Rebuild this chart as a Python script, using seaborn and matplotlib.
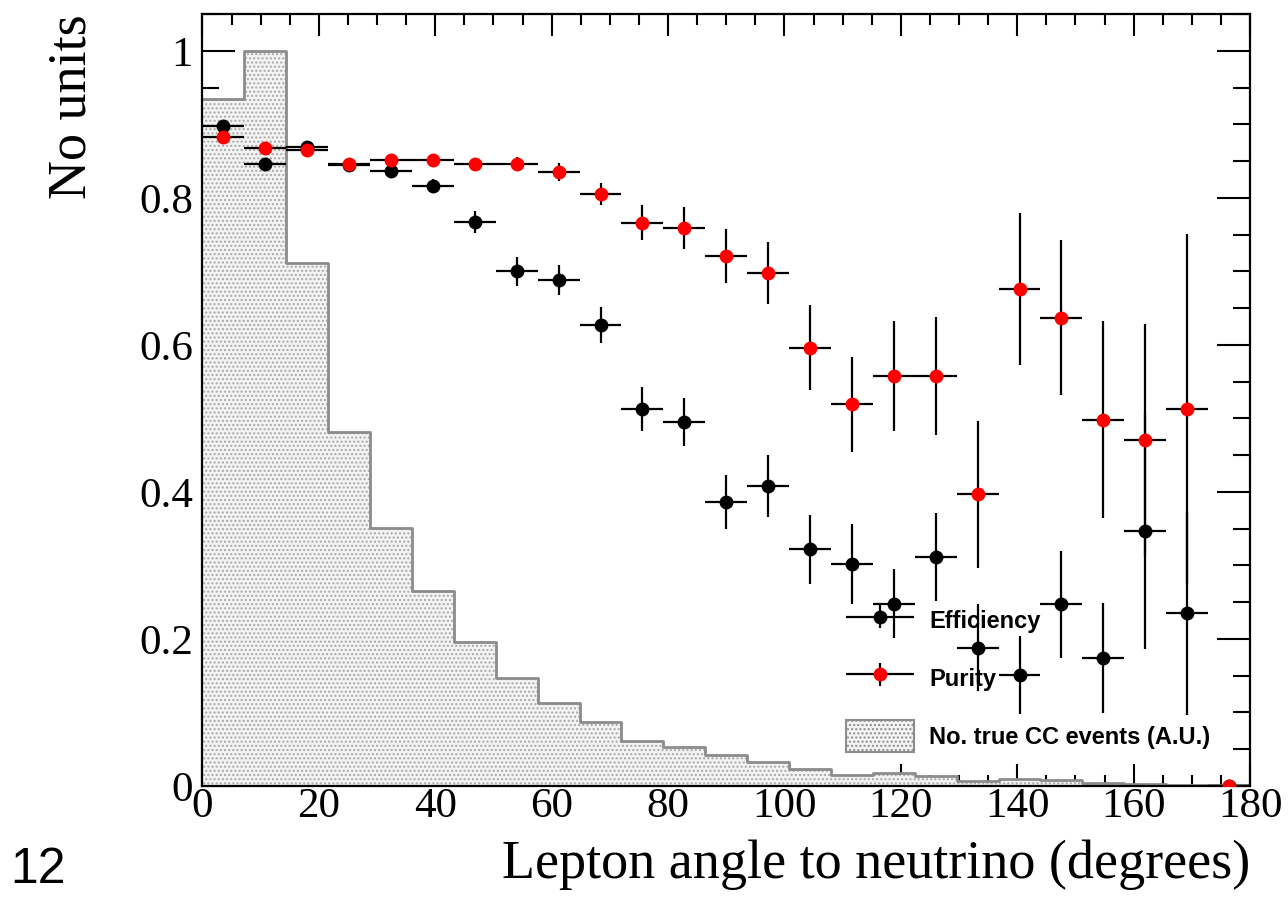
import numpy as np
import pandas as pd
import matplotlib
matplotlib.use("Agg")
import matplotlib.pyplot as plt
from matplotlib.ticker import MultipleLocator
from matplotlib.legend_handler import HandlerErrorbar
import seaborn as sns

# ---- data -----------------------------------------------------------------
n_bins = 25
angle_max = 180.0

efficiency = [0.898, 0.846, 0.869, 0.845, 0.837, 0.816, 0.767, 0.700, 0.688,
              0.627, 0.513, 0.495, 0.386, 0.408, 0.322, 0.302, 0.248, 0.311,
              0.188, 0.151, 0.247, 0.174, 0.347, 0.235, 0.000]
efficiency_err = [0.005, 0.005, 0.005, 0.006, 0.008, 0.010, 0.015, 0.020, 0.020,
                  0.025, 0.030, 0.033, 0.037, 0.042, 0.047, 0.055, 0.047, 0.060,
                  0.059, 0.053, 0.073, 0.075, 0.160, 0.138, 0.000]

purity = [0.883, 0.868, 0.865, 0.846, 0.852, 0.852, 0.846, 0.846, 0.835,
          0.805, 0.766, 0.759, 0.721, 0.698, 0.596, 0.519, 0.558, 0.558,
          0.397, 0.676, 0.637, 0.498, 0.470, 0.513, 0.000]
purity_err = [0.004, 0.004, 0.005, 0.005, 0.006, 0.006, 0.007, 0.010, 0.012,
              0.015, 0.024, 0.028, 0.037, 0.042, 0.058, 0.065, 0.075, 0.080,
              0.100, 0.103, 0.105, 0.134, 0.158, 0.238, 0.000]

true_cc = [0.935, 1.000, 0.712, 0.481, 0.351, 0.265, 0.196, 0.147, 0.113,
           0.087, 0.061, 0.053, 0.042, 0.033, 0.023, 0.015, 0.017, 0.014,
           0.007, 0.0095, 0.008, 0.004, 0.0023, 0.002, 0.001]

x_ticks = [0, 20, 40, 60, 80, 100, 120, 140, 160, 180]
y_ticks = [0, 0.2, 0.4, 0.6, 0.8, 1.0]
y_tick_labels = ["0", "0.2", "0.4", "0.6", "0.8", "1"]

edges = np.linspace(0, angle_max, n_bins + 1)
centers = 0.5 * (edges[:-1] + edges[1:])
half_width = 0.5 * (edges[1] - edges[0])

df = pd.DataFrame({
    "angle": centers,
    "efficiency": efficiency,
    "efficiency_err": efficiency_err,
    "purity": purity,
    "purity_err": purity_err,
    "true_cc": true_cc,
})

# ---- style ----------------------------------------------------------------
sns.set_theme(style="ticks")
plt.rcParams["font.family"] = ["Liberation Serif", "DejaVu Serif"]
plt.rcParams["text.color"] = "black"
plt.rcParams["axes.labelcolor"] = "black"
plt.rcParams["xtick.color"] = "black"
plt.rcParams["ytick.color"] = "black"

fig = plt.figure(figsize=(12.88, 9.05), dpi=100)
ax = fig.add_axes([0.1572, 0.1315, 0.8133, 0.853])

# true CC distribution: dotted fill plus grey outline
hist_kw = dict(data=df, x="angle", weights="true_cc", bins=n_bins,
               binrange=(0, angle_max), element="step", ax=ax)
sns.histplot(fill=True, facecolor="#f3f3f3", edgecolor="#a8a8a8",
             linewidth=0, alpha=1, hatch="....", zorder=1, **hist_kw)
sns.histplot(fill=False, color="#8c8c8c", linewidth=2.0, zorder=2, **hist_kw)

err_kw = dict(fmt="o", markersize=10, elinewidth=1.6, capsize=4,
              capthick=1.6, ecolor="black", markeredgewidth=0)
h_eff = ax.errorbar(df["angle"], df["efficiency"], yerr=df["efficiency_err"],
                    xerr=half_width, color="black", zorder=3, **err_kw)
h_pur = ax.errorbar(df["angle"], df["purity"], yerr=df["purity_err"],
                    xerr=half_width, color="#ff0000", zorder=4, **err_kw)

# ---- axes -----------------------------------------------------------------
ax.set_xlim(0, angle_max)
ax.set_ylim(0, 1.05)
ax.set_xticks(x_ticks)
ax.set_xticklabels([str(v) for v in x_ticks])
ax.set_yticks(y_ticks)
ax.set_yticklabels(y_tick_labels)
ax.xaxis.set_minor_locator(MultipleLocator(5))
ax.yaxis.set_minor_locator(MultipleLocator(0.05))
ax.tick_params(axis="both", which="both", direction="in", top=True,
               right=True, width=1.5, colors="black")
ax.tick_params(axis="x", which="major", length=16, pad=1, labelsize=31)
ax.tick_params(axis="x", which="minor", length=8)
ax.tick_params(axis="y", which="major", length=24, pad=7, labelsize=31)
ax.tick_params(axis="y", which="minor", length=12)
for s in ax.spines.values():
    s.set_linewidth(1.6)
    s.set_color("black")

ax.set_xlabel("Lepton angle to neutrino (degrees)", loc="right",
              fontsize=39, labelpad=10, color="black")
ax.set_ylabel("No units", loc="top", fontsize=39, labelpad=30, color="black")

# legend
hist_patch = plt.Rectangle((0, 0), 1, 1, facecolor="#f3f3f3",
                           edgecolor="#8c8c8c", linewidth=1.5, hatch="....")
err_handler = HandlerErrorbar(xerr_size=1.45, yerr_size=0.49)
leg = ax.legend([h_eff, h_pur, hist_patch],
                ["Efficiency", "Purity", "No. true CC events (A.U.)"],
                loc="upper left", bbox_to_anchor=(0.594, 0.262),
                frameon=False, handlelength=2.9, handleheight=1.68,
                handletextpad=0.62, labelspacing=1.1,
                handler_map={h_eff: err_handler, h_pur: err_handler},
                prop={"family": "Liberation Sans", "weight": "bold",
                      "size": 17})
for t in leg.get_texts():
    t.set_color("black")

fig.text(0.008, 0.013, "12", fontsize=36, family="Liberation Sans",
         ha="left", va="bottom", color="black")

fig.savefig("out.png", dpi=100)
